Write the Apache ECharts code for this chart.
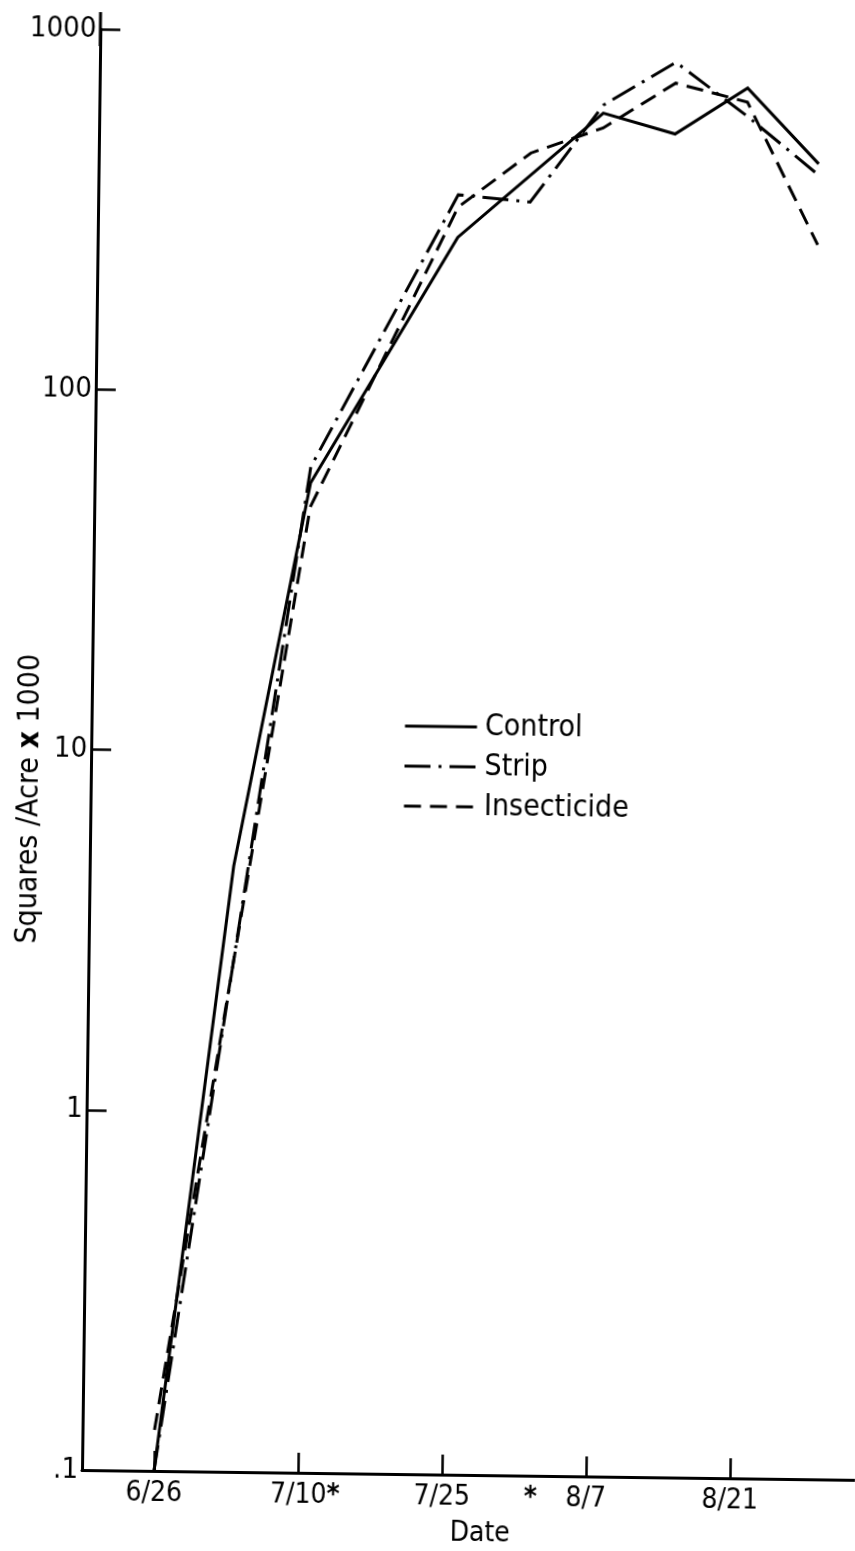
<!DOCTYPE html>
<html><head><meta charset="utf-8">
<script src="https://cdn.jsdelivr.net/npm/echarts@6/dist/echarts.min.js"></script>
<style>
html,body{margin:0;padding:0;background:#fff;width:855px;height:1551px;overflow:hidden;}
#chart{position:absolute;left:0;top:0;width:855px;height:1551px;transform:rotate(0.73deg);transform-origin:82px 1470px;}
</style></head><body><div id="chart"></div>
<script>
// Days after 6/26 at which squares were counted
const sampleDays = [0, 7, 14, 28, 35, 42, 49, 56, 63];
// Squares / acre x 1000
const control     = [0.1, 4.8, 56, 272, null, 609, 536, 723, 448];
const strip       = [0.1, 2.5, 62, 357, 343, 641, 848, 604, 417];
const insecticide = [0.13, 2.5, 48, 330, 469, 554, 742, 661, 267];
const seriesNames = ['Control', 'Strip', 'Insecticide'];
// x axis ticks (days after 6/26) and labels
const dateTickDays = [0, 14, 28, 42, 56];
const dateTickLabels = ['6/26', '7/10', '7/25', '8/7', '8/21'];
const starredDays = [14, 36.6];
// y axis labels by decade
const yTickLabels = ['.1', '1', '10', '100', '1000'];

const FONT = "'DejaVu Sans Condensed', 'DejaVu Sans', sans-serif";

function pairs(vals) {
  const out = [];
  for (let i = 0; i < sampleDays.length; i++) {
    if (vals[i] != null) out.push([sampleDays[i], vals[i]]);
  }
  return out;
}

const styles = [
  { type: 'solid' },
  { type: [26, 8, 3, 8] },
  { type: [17, 9] }
];
const allData = [control, strip, insecticide];

const chart = echarts.init(document.getElementById('chart'), null, { renderer: 'canvas' });
chart.setOption({
  animation: false,
  backgroundColor: '#fff',
  textStyle: { fontFamily: FONT, color: '#000' },
  grid: { left: 82, right: 0, top: 29, bottom: 81, containLabel: false, outerBoundsMode: 'none' },
  legend: {
    data: seriesNames,
    orient: 'vertical',
    left: 389,
    top: 702,
    padding: 5,
    itemWidth: 72,
    itemHeight: 4,
    itemGap: 10,
    itemStyle: { opacity: 0, borderWidth: 0 },
    lineStyle: { width: 3, color: '#000' },
    textStyle: { fontSize: 30, lineHeight: 30, fontFamily: FONT, color: '#000', padding: [0, 0, 0, 3] }
  },
  xAxis: {
    type: 'value',
    min: -7,
    max: 68.15,
    name: 'Date',
    nameLocation: 'middle',
    nameGap: 45,
    nameMoveOverlap: false,
    nameTextStyle: { fontSize: 28, fontFamily: FONT, color: '#000', padding: [0, 0, 0, 24] },
    axisLine: { show: true, onZero: false, lineStyle: { color: '#000', width: 3 } },
    axisTick: { show: true, inside: true, length: 20, customValues: dateTickDays, lineStyle: { color: '#000', width: 2.5 } },
    splitLine: { show: false },
    axisLabel: {
      customValues: dateTickDays.concat([starredDays[1]]),
      margin: 9,
      fontSize: 28,
      fontFamily: FONT,
      color: '#000',
      formatter: function (v) {
        const i = dateTickDays.indexOf(v);
        const star = starredDays.indexOf(v) >= 0;
        if (i >= 0) return star ? '{pad| }' + dateTickLabels[i] + '{star|*}' : dateTickLabels[i];
        return star ? '{star|*}' : '';
      },
      rich: {
        pad: { width: 14, fontSize: 28, fontFamily: FONT },
        star: { fontSize: 28, fontFamily: FONT, fontWeight: 'bold', color: '#000' }
      }
    }
  },
  yAxis: {
    type: 'log',
    logBase: 10,
    min: 0.1,
    max: 1000,
    name: 'Squares /Acre {b|x} 1000',
    nameLocation: 'middle',
    nameGap: 46,
    nameMoveOverlap: false,
    nameTextStyle: {
      fontSize: 30, fontFamily: FONT, color: '#000', padding: [0, 100, 0, 0],
      rich: { b: { fontSize: 30, fontWeight: 'bold', fontFamily: FONT, color: '#000' } }
    },
    axisLine: { show: true, onZero: false, symbol: ['none', 'rect'], symbolSize: [3, 34], lineStyle: { color: '#000', width: 3 } },
    axisTick: { show: true, inside: true, length: 20, lineStyle: { color: '#000', width: 2.5 } },
    splitLine: { show: false },
    axisLabel: {
      margin: 4,
      fontSize: 29,
      fontFamily: FONT,
      color: '#000',
      formatter: function (v) {
        const k = Math.round(Math.log10(v)) + 1;
        return yTickLabels[k] != null ? yTickLabels[k] : '';
      }
    }
  },
  series: seriesNames.map(function (n, i) {
    return {
      name: n,
      type: 'line',
      data: pairs(allData[i]),
      symbol: 'none',
      silent: true,
      itemStyle: { color: '#000' },
      lineStyle: { color: '#000', width: 3, type: styles[i].type, cap: 'butt', join: 'miter' }
    };
  })
});
</script></body></html>
